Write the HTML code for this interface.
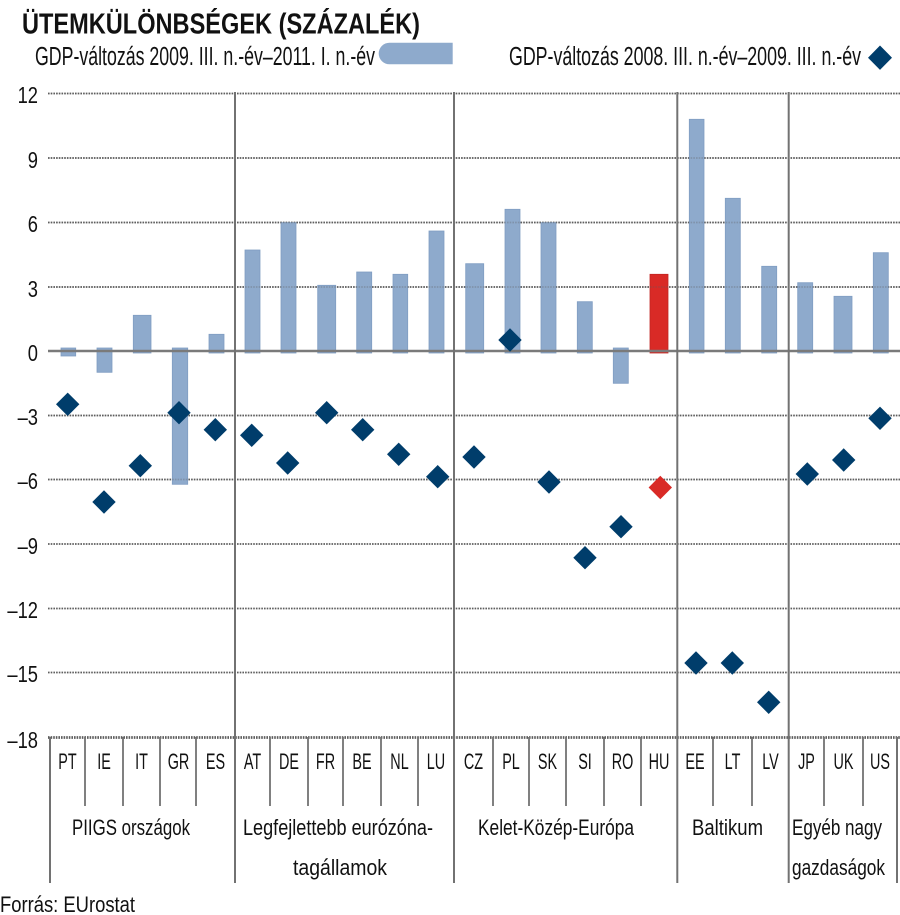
<!DOCTYPE html>
<html>
<head>
<meta charset="utf-8">
<style>
html,body{margin:0;padding:0;background:#fff;}
svg{display:block;}
text{font-family:"Liberation Sans",sans-serif;fill:#111;}
</style>
</head>
<body>
<svg width="900" height="915" viewBox="0 0 900 915" xmlns="http://www.w3.org/2000/svg">
<!-- Title -->
<text x="22" y="33.5" font-size="28.5" font-weight="bold" textLength="398" lengthAdjust="spacingAndGlyphs">ÜTEMKÜLÖNBSÉGEK (SZÁZALÉK)</text>
<!-- Legend -->
<text x="35" y="65" font-size="25.5" textLength="340" lengthAdjust="spacingAndGlyphs">GDP-változás 2009. III. n.-év–2011. I. n.-év</text>
<path d="M389.5,42.7 H452.7 V64.3 H389.5 A10.8,10.8 0 0 1 389.5,42.7 Z" fill="#8eaacc"/>
<text x="509" y="65" font-size="25.5" textLength="352" lengthAdjust="spacingAndGlyphs">GDP-változás 2008. III. n.-év–2009. III. n.-év</text>
<polygon points="880,45.5 892,57.7 880,69.9 868,57.7" fill="#003d6b"/>

<!-- Gridlines (under bars) -->
<g stroke="#5e5e5e" stroke-width="1.8" stroke-dasharray="1.6 1.1">
<line x1="48" y1="93.5" x2="900" y2="93.5"/>
<line x1="48" y1="158" x2="900" y2="158"/>
<line x1="48" y1="222.5" x2="900" y2="222.5"/>
<line x1="48" y1="287" x2="900" y2="287"/>
<line x1="48" y1="415.5" x2="900" y2="415.5"/>
<line x1="48" y1="479.5" x2="900" y2="479.5"/>
<line x1="48" y1="544" x2="900" y2="544"/>
<line x1="48" y1="608.5" x2="900" y2="608.5"/>
<line x1="48" y1="672.5" x2="900" y2="672.5"/>
</g>
<line x1="48" y1="737.5" x2="900" y2="737.5" stroke="#5e5e5e" stroke-width="2.8" stroke-dasharray="1.6 1"/>

<!-- Y labels -->
<g font-size="23.5">
<g transform="translate(38,103) scale(0.78,1)"><text text-anchor="end">12</text></g>
<g transform="translate(38,168) scale(0.78,1)"><text text-anchor="end">9</text></g>
<g transform="translate(38,232) scale(0.78,1)"><text text-anchor="end">6</text></g>
<g transform="translate(38,297) scale(0.78,1)"><text text-anchor="end">3</text></g>
<g transform="translate(38,361) scale(0.78,1)"><text text-anchor="end">0</text></g>
<g transform="translate(38,425) scale(0.78,1)"><text text-anchor="end">–3</text></g>
<g transform="translate(38,489) scale(0.78,1)"><text text-anchor="end">–6</text></g>
<g transform="translate(38,554) scale(0.78,1)"><text text-anchor="end">–9</text></g>
<g transform="translate(38,618) scale(0.78,1)"><text text-anchor="end">–12</text></g>
<g transform="translate(38,682) scale(0.78,1)"><text text-anchor="end">–15</text></g>
<g transform="translate(38,748) scale(0.78,1)"><text text-anchor="end">–18</text></g>
</g>

<!-- Bars -->
<g fill="#8eaacc" stroke="#7f9dc2" stroke-width="0.8">
<rect x="61" y="348" width="14.7" height="8"/>
<rect x="97" y="348" width="15" height="24.3"/>
<rect x="133.3" y="315.3" width="17.7" height="37.7"/>
<rect x="172.3" y="348" width="15.4" height="136.3"/>
<rect x="209" y="334.3" width="15" height="18.7"/>
<rect x="245" y="250" width="15" height="103"/>
<rect x="281" y="222.7" width="15" height="130.3"/>
<rect x="317.7" y="285.3" width="18" height="67.7"/>
<rect x="356.7" y="272" width="15" height="81"/>
<rect x="393" y="274.3" width="14.7" height="78.7"/>
<rect x="429" y="231" width="15" height="122"/>
<rect x="465.7" y="263.7" width="18" height="89.3"/>
<rect x="505" y="209.3" width="15" height="143.7"/>
<rect x="541" y="222.7" width="15" height="130.3"/>
<rect x="577.3" y="301.7" width="15" height="51.3"/>
<rect x="613.3" y="348" width="15" height="35.3"/>
<rect x="689.3" y="119.3" width="14.7" height="233.7"/>
<rect x="725.3" y="198.3" width="15" height="154.7"/>
<rect x="761.7" y="266.3" width="15" height="86.7"/>
<rect x="797.7" y="282.7" width="15" height="70.3"/>
<rect x="834" y="296.3" width="18" height="56.7"/>
<rect x="873.3" y="252.7" width="15" height="100.3"/>
</g>
<rect x="650" y="274.3" width="18" height="78.7" fill="#d92a26" stroke="#c22522" stroke-width="0.8"/>

<!-- Gridlines faint over bars -->
<g stroke="#5e5e5e" stroke-width="1.8" stroke-dasharray="1.6 1.1" opacity="0.3">
<line x1="48" y1="93.5" x2="900" y2="93.5"/>
<line x1="48" y1="158" x2="900" y2="158"/>
<line x1="48" y1="222.5" x2="900" y2="222.5"/>
<line x1="48" y1="287" x2="900" y2="287"/>
<line x1="48" y1="415.5" x2="900" y2="415.5"/>
<line x1="48" y1="479.5" x2="900" y2="479.5"/>
</g>

<!-- Zero line -->
<line x1="48" y1="351" x2="900" y2="351" stroke="#7a7a7a" stroke-width="2.4"/>

<!-- Group separator lines -->
<g stroke="#727272" stroke-width="2">
<line x1="235" y1="92" x2="235" y2="883"/>
<line x1="454" y1="92" x2="454" y2="883"/>
<line x1="677.3" y1="92" x2="677.3" y2="883"/>
<line x1="788.7" y1="92" x2="788.7" y2="883"/>
<line x1="50" y1="737" x2="50" y2="883"/>
<line x1="897" y1="737" x2="897" y2="883"/>
</g>
<!-- Minor ticks -->
<g stroke="#727272" stroke-width="1.8">
<line x1="85" y1="737" x2="85" y2="806"/>
<line x1="123" y1="737" x2="123" y2="806"/>
<line x1="160" y1="737" x2="160" y2="806"/>
<line x1="196" y1="737" x2="196" y2="806"/>
<line x1="270" y1="737" x2="270" y2="806"/>
<line x1="308" y1="737" x2="308" y2="806"/>
<line x1="343" y1="737" x2="343" y2="806"/>
<line x1="381" y1="737" x2="381" y2="806"/>
<line x1="418" y1="737" x2="418" y2="806"/>
<line x1="493" y1="737" x2="493" y2="806"/>
<line x1="529" y1="737" x2="529" y2="806"/>
<line x1="566" y1="737" x2="566" y2="806"/>
<line x1="604" y1="737" x2="604" y2="806"/>
<line x1="641" y1="737" x2="641" y2="806"/>
<line x1="713" y1="737" x2="713" y2="806"/>
<line x1="752" y1="737" x2="752" y2="806"/>
<line x1="824" y1="737" x2="824" y2="806"/>
<line x1="863" y1="737" x2="863" y2="806"/>
</g>

<!-- Diamonds -->
<g fill="#003d6b">
<polygon points="67.7,392.6 79.4,404.3 67.7,416 56,404.3"/>
<polygon points="104,490.3 115.7,502 104,513.7 92.3,502"/>
<polygon points="140.3,454 152,465.7 140.3,477.4 128.6,465.7"/>
<polygon points="179,401 190.7,412.7 179,424.4 167.3,412.7"/>
<polygon points="215.3,418 227,429.7 215.3,441.4 203.6,429.7"/>
<polygon points="251.7,423.6 263.4,435.3 251.7,447 240,435.3"/>
<polygon points="287.7,451.3 299.4,463 287.7,474.7 276,463"/>
<polygon points="326.7,401 338.4,412.7 326.7,424.4 315,412.7"/>
<polygon points="362.7,418 374.4,429.7 362.7,441.4 351,429.7"/>
<polygon points="398.7,442.6 410.4,454.3 398.7,466 387,454.3"/>
<polygon points="437.7,465 449.4,476.7 437.7,488.4 426,476.7"/>
<polygon points="474,445.3 485.7,457 474,468.7 462.3,457"/>
<polygon points="510,328.3 521.7,340 510,351.7 498.3,340"/>
<polygon points="549,470.3 560.7,482 549,493.7 537.3,482"/>
<polygon points="585,546 596.7,557.7 585,569.4 573.3,557.7"/>
<polygon points="621,515 632.7,526.7 621,538.4 609.3,526.7"/>
<polygon points="696,651.3 707.7,663 696,674.7 684.3,663"/>
<polygon points="732.3,651.3 744,663 732.3,674.7 720.6,663"/>
<polygon points="768.7,690.6 780.4,702.3 768.7,714 757,702.3"/>
<polygon points="807.3,462.3 819,474 807.3,485.7 795.6,474"/>
<polygon points="843.7,448.3 855.4,460 843.7,471.7 832,460"/>
<polygon points="880,406.6 891.7,418.3 880,430 868.3,418.3"/>
</g>
<polygon points="660.3,475.8 672,487.5 660.3,499.2 648.6,487.5" fill="#d92a26"/>

<!-- Category labels -->
<g font-size="22.5">
<g transform="translate(67.5,769) scale(0.64,1)"><text text-anchor="middle">PT</text></g>
<g transform="translate(104,769) scale(0.64,1)"><text text-anchor="middle">IE</text></g>
<g transform="translate(141.5,769) scale(0.64,1)"><text text-anchor="middle">IT</text></g>
<g transform="translate(178.5,769) scale(0.64,1)"><text text-anchor="middle">GR</text></g>
<g transform="translate(215.5,769) scale(0.64,1)"><text text-anchor="middle">ES</text></g>
<g transform="translate(252.5,769) scale(0.64,1)"><text text-anchor="middle">AT</text></g>
<g transform="translate(289,769) scale(0.64,1)"><text text-anchor="middle">DE</text></g>
<g transform="translate(325.5,769) scale(0.64,1)"><text text-anchor="middle">FR</text></g>
<g transform="translate(362,769) scale(0.64,1)"><text text-anchor="middle">BE</text></g>
<g transform="translate(399.5,769) scale(0.64,1)"><text text-anchor="middle">NL</text></g>
<g transform="translate(436,769) scale(0.64,1)"><text text-anchor="middle">LU</text></g>
<g transform="translate(473.5,769) scale(0.64,1)"><text text-anchor="middle">CZ</text></g>
<g transform="translate(511,769) scale(0.64,1)"><text text-anchor="middle">PL</text></g>
<g transform="translate(547.5,769) scale(0.64,1)"><text text-anchor="middle">SK</text></g>
<g transform="translate(585,769) scale(0.64,1)"><text text-anchor="middle">SI</text></g>
<g transform="translate(622.5,769) scale(0.64,1)"><text text-anchor="middle">RO</text></g>
<g transform="translate(659,769) scale(0.64,1)"><text text-anchor="middle">HU</text></g>
<g transform="translate(695,769) scale(0.64,1)"><text text-anchor="middle">EE</text></g>
<g transform="translate(732.5,769) scale(0.64,1)"><text text-anchor="middle">LT</text></g>
<g transform="translate(770.5,769) scale(0.64,1)"><text text-anchor="middle">LV</text></g>
<g transform="translate(806.5,769) scale(0.64,1)"><text text-anchor="middle">JP</text></g>
<g transform="translate(843.5,769) scale(0.64,1)"><text text-anchor="middle">UK</text></g>
<g transform="translate(880,769) scale(0.64,1)"><text text-anchor="middle">US</text></g>
</g>

<!-- Group labels -->
<g font-size="22.5">
<text x="72" y="835" textLength="118" lengthAdjust="spacingAndGlyphs">PIIGS országok</text>
<text x="243" y="835" textLength="190" lengthAdjust="spacingAndGlyphs">Legfejlettebb eurózóna-</text>
<text x="293" y="875" textLength="94" lengthAdjust="spacingAndGlyphs">tagállamok</text>
<text x="478" y="835" textLength="156" lengthAdjust="spacingAndGlyphs">Kelet-Közép-Európa</text>
<text x="692" y="835" textLength="71" lengthAdjust="spacingAndGlyphs">Baltikum</text>
<text x="792" y="835" textLength="90" lengthAdjust="spacingAndGlyphs">Egyéb nagy</text>
<text x="792" y="875" textLength="93" lengthAdjust="spacingAndGlyphs">gazdaságok</text>
<text x="0" y="912" textLength="135" lengthAdjust="spacingAndGlyphs">Forrás: EUrostat</text>
</g>
</svg>
</body>
</html>
